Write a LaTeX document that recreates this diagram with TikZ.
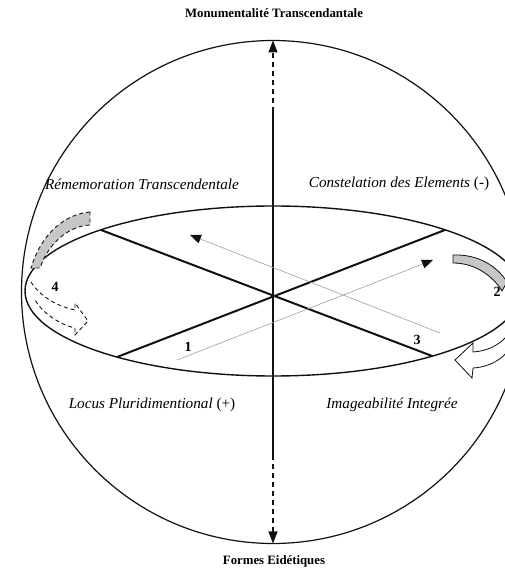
\documentclass[tikz,border=0pt]{standalone}
\usepackage{fontspec}
\setmainfont{Liberation Serif}
\usetikzlibrary{calc,arrows.meta}
\definecolor{ink}{HTML}{111111}
\definecolor{band}{HTML}{C6C6C6}
\definecolor{faint}{HTML}{A0A0A0}
\newcommand{\Lbl}{\fontsize{15.2}{17}\selectfont\itshape}
\newcommand{\Ttl}{\fontsize{12.8}{15}\selectfont\bfseries}
\newcommand{\Num}{\fontsize{14}{16}\selectfont\bfseries}

\begin{document}
\begin{tikzpicture}[x=1pt,y=1pt, font=\Lbl,
    rim/.style={ink,line width=1.2pt},
    spoke/.style={ink,line width=2pt},
    axis/.style={ink,line width=2.4pt},
    stub/.style={ink,line width=1.4pt,dash pattern=on 5pt off 4pt,-{Triangle[width=9pt,length=12pt]}},
    trail/.style={faint,line width=0.6pt,-{Triangle[width=9pt,length=11pt,color=ink]}},
    turn/.style={ink,line width=0.8pt},
    hidden/.style={ink,line width=0.9pt,dash pattern=on 4pt off 3pt}]
  \clip (0,0) rectangle (505,574);
  \fill[white] (0,0) rectangle (505,574);
  \coordinate (O) at (273,282);
  \coordinate (E) at (273,283);
  \draw[rim] (O) circle [radius=251.5];
  \draw[rim,line width=1.4pt] (E) ellipse [x radius=248, y radius=85];
  \foreach \n/\a in {ne/46, nw/134, sw/231, se/310}
    \coordinate (\n) at ($(E)+(\a:248 and 85)$);
  \draw[spoke] (sw) -- (ne);
  \draw[spoke] (nw) -- (se);
  % axe vertical
  \coordinate (pole n) at (273,533.5);
  \coordinate (pole s) at (273,30.5);
  \coordinate (axis n) at (273,462);
  \coordinate (axis s) at (273,119);
  \draw[axis] (axis s) -- (axis n);
  \draw[stub] (axis n) -- (pole n);
  \draw[stub] (axis s) -- (pole s);
  % parcours
  \coordinate (t1a) at (177,214); \coordinate (t1b) at (433,314);
  \coordinate (t3a) at (440,241); \coordinate (t3b) at (190,339);
  \draw[trail] (t1a) -- (t1b);
  \draw[trail] (t3a) -- (t3b);
  % rotations
  \draw[turn,fill=band] (453,319) .. controls (478,320) and (497,308) .. (507,292)
    -- (502,283) .. controls (493,298) and (475,311) .. (453,311) -- cycle;
  \draw[turn,fill=white] (507,238) .. controls (498,228) and (487,223) .. (473,222)
    -- (473,231) -- (455,214) -- (472,196) -- (473,206)
    .. controls (490,207) and (503,215) .. (510,226) -- cycle;
  \draw[hidden,fill=band] (90,362) .. controls (66,360) and (42,342) .. (31,306)
    -- (40,306) .. controls (48,330) and (68,348) .. (90,349) -- cycle;
  \draw[hidden] (31,292) .. controls (38,280) and (55,268) .. (75,264)
    -- (75,271) -- (88,253) -- (75,239) -- (75,246)
    .. controls (58,250) and (42,262) .. (35,274);
  % textes
  \node[font=\Ttl] (top) at (274,561) {Monumentalité Transcendantale};
  \node[font=\Ttl] (bottom) at (274,13) {Formes Eidétiques};
  \node (rem) at (142,390) {Rémemoration Transcendentale};
  \node (con) at (399,390) {Constelation des Elements \textup{(-)}};
  \node (loc) at (152,169) {Locus Pluridimentional \textup{(+)}};
  \node (ima) at (392,169) {Imageabilité Integrée};
  \foreach \nm/\x/\y in {1/188/227, 2/497/282, 3/417/234, 4/55/287}
    \node[font=\Num] (n\nm) at (\x,\y) {\nm};
\end{tikzpicture}
\end{document}
